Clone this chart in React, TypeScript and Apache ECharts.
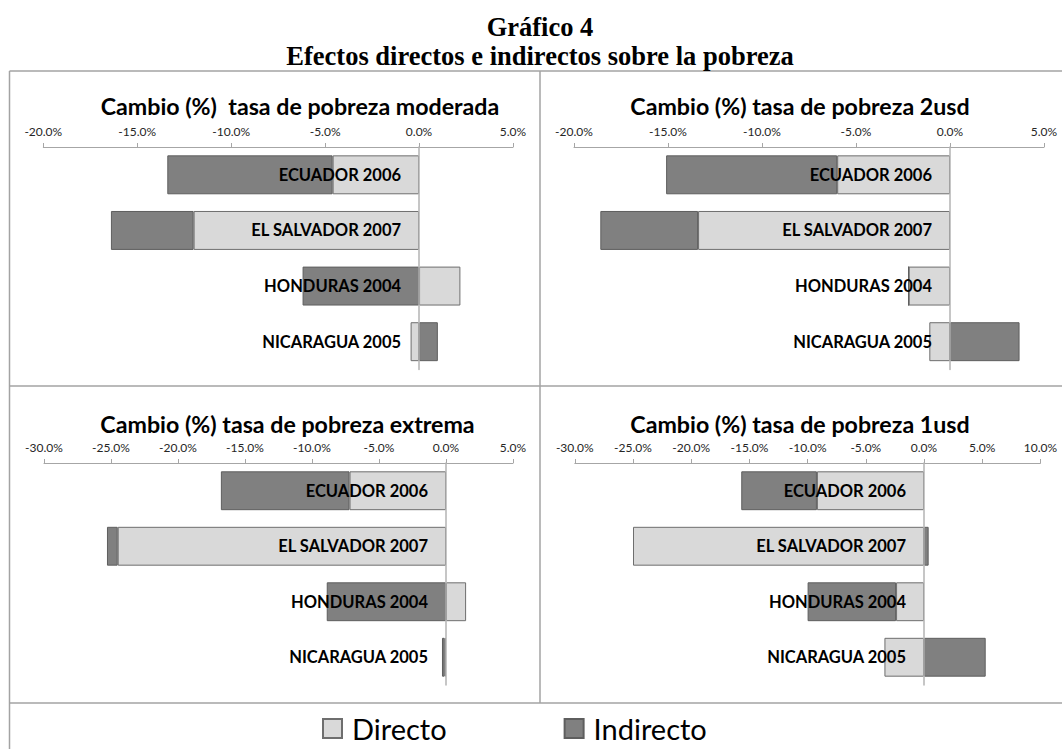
import React, { useEffect, useRef } from "react";
import * as echarts from "echarts";

const CATEGORIES = ["ECUADOR 2006", "EL SALVADOR 2007", "HONDURAS 2004", "NICARAGUA 2005"];

const MODERADA_DIRECTO = [-4.6, -12.0, 2.2, -0.45];
const MODERADA_INDIRECTO = [-8.8, -4.4, -6.2, 1.0];

const USD2_DIRECTO = [-6.0, -13.4, -2.2, -1.1];
const USD2_INDIRECTO = [-9.1, -5.2, 0, 3.7];

const EXTREMA_DIRECTO = [-7.2, -24.5, 1.5, -0.1];
const EXTREMA_INDIRECTO = [-9.6, -0.8, -8.9, -0.2];

const USD1_DIRECTO = [-9.2, -25.0, -2.4, -3.4];
const USD1_INDIRECTO = [-6.5, 0.4, -7.6, 5.3];

const PANEL_TITLES = [
  "Cambio (%)  tasa de pobreza moderada",
  "Cambio (%) tasa de pobreza 2usd",
  "Cambio (%) tasa de pobreza extrema",
  "Cambio (%) tasa de pobreza 1usd",
];
const AXIS_MIN = [-20, -20, -30, -30];
const AXIS_MAX = [5, 5, 5, 10];
const SERIES_NAMES = ["Directo", "Indirecto"];
const MAIN_TITLE = "Gráfico 4";
const MAIN_SUBTITLE = "Efectos directos e indirectos sobre la pobreza";

const PANELS = [
  { directo: MODERADA_DIRECTO, indirecto: MODERADA_INDIRECTO },
  { directo: USD2_DIRECTO, indirecto: USD2_INDIRECTO },
  { directo: EXTREMA_DIRECTO, indirecto: EXTREMA_INDIRECTO },
  { directo: USD1_DIRECTO, indirecto: USD1_INDIRECTO },
];

// layout (pixels)
const GRID_BOXES = [
  { left: 43.3, width: 469.7, top: 147, height: 222.5 },
  { left: 574, width: 470, top: 147, height: 222.5 },
  { left: 44, width: 469, top: 463, height: 222 },
  { left: 574.8, width: 465.6, top: 463, height: 222 },
];
const TITLE_POS = [
  { x: 300, y: 94 },
  { x: 800, y: 94 },
  { x: 287.5, y: 412 },
  { x: 800, y: 412 },
];
const LABEL_GAP = 18;

const SANS = "Lato, 'Open Sans', sans-serif";
const SERIF = "'Liberation Serif', 'Times New Roman', serif";
const DIRECT_COLOR = "#d9d9d9";
const INDIRECT_COLOR = "#808080";
const BORDER = "#a3a3a3";

export default function App() {
  const ref = useRef<HTMLDivElement>(null);

  useEffect(() => {
    if (!ref.current) return;
    const chart = echarts.init(ref.current, null, { renderer: "svg" });

    const grids = GRID_BOXES.map((g) => ({
      left: g.left,
      top: g.top,
      width: g.width,
      height: g.height,
      containLabel: false,
      outerBoundsMode: "none",
    }));

    const xAxes = PANELS.map((_, i) => ({
      type: "value",
      gridIndex: i,
      position: "top",
      min: AXIS_MIN[i],
      max: AXIS_MAX[i],
      interval: 5,
      splitLine: { show: false },
      axisLine: { show: true, onZero: false, lineStyle: { color: "#a6a6a6", width: 1 } },
      axisTick: { show: true, length: 4, lineStyle: { color: "#a6a6a6" } },
      axisLabel: {
        fontSize: 12,
        fontFamily: SANS,
        color: "#262626",
        margin: 10,
        formatter: (v: number) => v.toFixed(1) + "%",
      },
    }));

    const yAxes = PANELS.map((_, i) => {
      // distance from the grid's left edge to the zero value, in pixels
      const zeroOffset = (GRID_BOXES[i].width * -AXIS_MIN[i]) / (AXIS_MAX[i] - AXIS_MIN[i]);
      return {
        type: "category",
        gridIndex: i,
        data: CATEGORIES,
        inverse: true,
        z: 5,
        axisLine: { show: true, onZero: true, lineStyle: { color: "#b3b3b3", width: 1.5 } },
        axisTick: { show: false },
        axisLabel: {
          fontSize: 16.5,
          fontWeight: "bold",
          fontFamily: SANS,
          color: "#000",
          margin: LABEL_GAP - zeroOffset,
        },
      };
    });

    const series: any[] = [];
    PANELS.forEach((p, i) => {
      series.push({
        name: SERIES_NAMES[0],
        type: "bar",
        xAxisIndex: i,
        yAxisIndex: i,
        stack: "s" + i,
        barCategoryGap: "30%",
        data: p.directo,
        itemStyle: { color: DIRECT_COLOR, borderColor: "#6e6e6e", borderWidth: 1 },
      });
      series.push({
        name: SERIES_NAMES[1],
        type: "bar",
        xAxisIndex: i,
        yAxisIndex: i,
        stack: "s" + i,
        barCategoryGap: "30%",
        data: p.indirecto,
        itemStyle: { color: INDIRECT_COLOR, borderColor: "#5e5e5e", borderWidth: 1 },
      });
    });

    const titles: any[] = [
      {
        text: MAIN_TITLE,
        left: 540,
        top: 13,
        textAlign: "center",
        padding: 0,
        textStyle: { fontFamily: SERIF, fontSize: 26.5, fontWeight: "bold", color: "#000" },
      },
      {
        text: MAIN_SUBTITLE,
        left: 540,
        top: 42.5,
        textAlign: "center",
        padding: 0,
        textStyle: { fontFamily: SERIF, fontSize: 26.5, fontWeight: "bold", color: "#000" },
      },
      ...PANEL_TITLES.map((t, i) => ({
        text: t,
        left: TITLE_POS[i].x,
        top: TITLE_POS[i].y,
        textAlign: "center",
        padding: 0,
        textStyle: { fontFamily: SANS, fontSize: 23.2, fontWeight: "bold", color: "#000" },
      })),
    ];

    const ln = (x1: number, y1: number, x2: number, y2: number) => ({
      type: "line",
      silent: true,
      shape: { x1, y1, x2, y2 },
      style: { stroke: BORDER, lineWidth: 1.5 },
    });

    chart.setOption({
      animation: false,
      backgroundColor: "#ffffff",
      title: titles,
      legend: {
        data: SERIES_NAMES,
        left: 322,
        top: 714,
        padding: 0,
        itemWidth: 19,
        itemHeight: 19,
        itemGap: 117,
        icon: "rect",
        textStyle: { fontSize: 29, fontFamily: SANS, color: "#000", padding: [0, 0, 0, 5] },
      },
      grid: grids,
      xAxis: xAxes,
      yAxis: yAxes,
      series,
      graphic: [
        ln(9.5, 71, 1062, 71),
        ln(9.5, 71, 9.5, 749),
        ln(9.5, 386, 1062, 386),
        ln(540, 71, 540, 703),
        ln(9.5, 703, 1062, 703),
      ],
    });

    return () => chart.dispose();
  }, []);

  return (
    <div
      ref={ref}
      style={{ position: "absolute", left: 0, top: 0, width: 1062, height: 749, background: "#fff" }}
    />
  );
}
